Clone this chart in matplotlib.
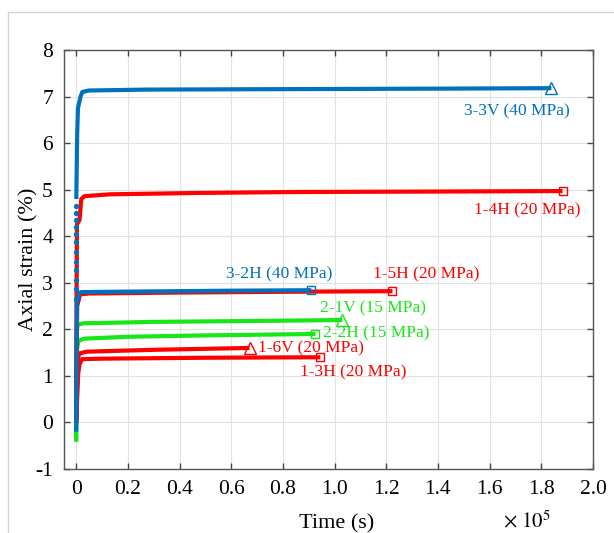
import numpy as np
import matplotlib
matplotlib.use("Agg")
import matplotlib.pyplot as plt
from matplotlib.patches import Rectangle
from matplotlib.ticker import FuncFormatter, MultipleLocator

plt.rcParams['font.family'] = ['Liberation Serif', 'DejaVu Serif']
plt.rcParams['mathtext.fontset'] = 'stix'

BLUE = '#0072BD'
RED = '#FF0000'
GREEN = '#19E619'

# creep curves: time (s) vs axial strain (%)
t_33v = [60, 400, 700, 1100, 1700, 2400, 5000, 28000, 86000, 140000, 183900]
e_33v = [4.80, 6.20, 6.75, 6.85, 7.00, 7.10, 7.13, 7.15, 7.16, 7.17, 7.18]
# sparse early readings of 3-3V during loading
t_33v_early = [0, 0, 0, 0, 0, 0, 0, 0, 0, 0, 0, 0]
e_33v_early = [2.65, 2.87, 3.06, 3.27, 3.45, 3.66, 3.88, 4.05, 4.20, 4.35, 4.50, 4.65]

t_14h = [0, 150, 300, 1300, 2000, 3200, 13000, 48000, 86000, 140000, 188200]
e_14h = [0.0, 2.50, 4.25, 4.35, 4.80, 4.86, 4.90, 4.93, 4.95, 4.96, 4.97]

t_32h = [0, 300, 1200, 2000, 20000, 60000, 91000]
e_32h = [-0.20, 2.60, 2.78, 2.80, 2.81, 2.83, 2.84]

t_15h = [0, 400, 1500, 5000, 40000, 90000, 122400]
e_15h = [0.0, 2.50, 2.75, 2.77, 2.79, 2.81, 2.82]

t_21v = [0, 300, 600, 3000, 30000, 70000, 103000]
e_21v = [-0.41, 2.00, 2.10, 2.13, 2.16, 2.18, 2.20]

t_22h = [0, 400, 900, 3000, 20000, 50000, 92600]
e_22h = [-0.41, 1.60, 1.75, 1.80, 1.84, 1.87, 1.90]

t_16v = [0, 600, 1200, 4000, 30000, 67100]
e_16v = [0.0, 1.35, 1.48, 1.52, 1.56, 1.60]

t_13h = [0, 800, 1300, 2300, 10000, 50000, 94500]
e_13h = [0.0, 1.05, 1.25, 1.36, 1.37, 1.39, 1.40]

labels = ['3-3V (40 MPa)', '1-4H (20 MPa)', '3-2H (40 MPa)', '1-5H (20 MPa)',
          '2-1V (15 MPa)', '2-2H (15 MPa)', '1-6V (20 MPa)', '1-3H (20 MPa)']
label_x = [1.707e5, 1.745e5, 0.784e5, 1.355e5, 0.944e5, 0.957e5, 0.703e5, 0.867e5]
label_y = [6.69, 4.55, 3.17, 3.17, 2.44, 1.92, 1.58, 1.08]
label_ha = ['center', 'center', 'center', 'center', 'left', 'left', 'left', 'left']

fig = plt.figure(figsize=(6.14, 5.33), dpi=100)
ax = fig.add_axes([64 / 614, 64 / 533, 529 / 614, 419 / 533])

# outer frame
fig.add_artist(Rectangle((7.5 / 614, -0.1), 2, (533 - 12) / 533 + 0.1,
                         transform=fig.transFigure, fill=False,
                         edgecolor='#d4d4d4', lw=1.0))

lw = 3.0
curves = [
    (t_21v, e_21v, GREEN, '^'), (t_22h, e_22h, GREEN, 's'),
    (t_14h, e_14h, RED, 's'), (t_15h, e_15h, RED, 's'),
    (t_16v, e_16v, RED, '^'), (t_13h, e_13h, RED, 's'),
    (t_32h, e_32h, BLUE, 's'), (t_33v, e_33v, BLUE, '^'),
]
for t, e, c, m in curves:
    ax.plot(t, e, color=c, lw=lw, solid_capstyle='butt', zorder=3)
    ax.plot(t[-1], e[-1], marker=m, ms=8.5 if m == '^' else 6.3, mfc='none',
            mec=c, mew=1.0, zorder=4)
ax.plot(t_33v_early, e_33v_early, ls='none', marker='o', ms=2.8,
        color=BLUE, zorder=3)

colors = [BLUE, RED, BLUE, RED, GREEN, GREEN, RED, RED]
for txt, x, y, ha, c in zip(labels, label_x, label_y, label_ha, colors):
    ax.text(x, y, txt, color=c, fontsize=12.5, ha=ha, va='center')

ax.set_xlim(-0.047e5, 2.0e5)
ax.set_ylim(-1, 8)
ax.xaxis.set_major_locator(MultipleLocator(0.2e5))
ax.yaxis.set_major_locator(MultipleLocator(1))
ax.xaxis.set_major_formatter(FuncFormatter(
    lambda v, p: '0' if abs(v) < 1 else f'{v / 1e5:.1f}'))
ax.yaxis.set_major_formatter(FuncFormatter(lambda v, p: f'{v:.0f}'))
ax.tick_params(direction='in', length=4, width=1, color='#444444',
               top=True, right=True, labelsize=15.5, pad=8)
ax.grid(True, color='#e2e2e2', lw=0.8)
ax.set_axisbelow(True)
for s in ax.spines.values():
    s.set_color('#555555')
    s.set_linewidth(1.0)

ax.set_xlabel('Time (s)', fontsize=16, va='center')
ax.xaxis.set_label_coords(0.516, -0.131)
ax.set_ylabel('Axial strain (%)', fontsize=16, va='center')
ax.yaxis.set_label_coords(-0.066, 0.5)
fig.text(527 / 614, 1 - 522 / 533, r'$\times\ 10^{5}$', fontsize=15,
         ha='center', va='center')

fig.savefig('out.png', dpi=100)
